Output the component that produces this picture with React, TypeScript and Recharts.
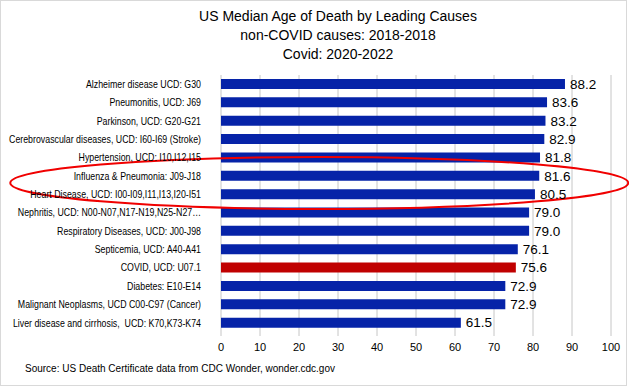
import React from 'react';
import { Bar, BarChart, CartesianGrid, Cell, LabelList, ReferenceDot, XAxis, YAxis } from 'recharts';

const causes = [
  'Alzheimer disease UCD: G30',
  'Pneumonitis, UCD: J69',
  'Parkinson, UCD: G20-G21',
  'Cerebrovascular diseases, UCD: I60-I69 (Stroke)',
  'Hypertension, UCD: I10,I12,I15',
  'Influenza & Pneumonia: J09-J18',
  'Heart Disease, UCD: I00-I09,I11,I13,I20-I51',
  'Nephritis, UCD: N00-N07,N17-N19,N25-N27\u2026',
  'Respiratory Diseases, UCD: J00-J98',
  'Septicemia, UCD: A40-A41',
  'COVID, UCD: U07.1',
  'Diabetes: E10-E14',
  'Malignant Neoplasms, UCD C00-C97 (Cancer)',
  'Liver disease and cirrhosis,  UCD: K70,K73-K74',
];
const medianAge = [88.2, 83.6, 83.2, 82.9, 81.8, 81.6, 80.5, 79.0, 79.0, 76.1, 75.6, 72.9, 72.9, 61.5];
const xTicks = [0, 10, 20, 30, 40, 50, 60, 70, 80, 90, 100];
const highlighted = 'COVID, UCD: U07.1';
const circled = 'Influenza & Pneumonia: J09-J18';

const titleLines = ['US Median Age of Death by Leading Causes', 'non-COVID causes: 2018-2018', 'Covid: 2020-2022'];

const data = causes.map((cause, i) => ({ cause, age: medianAge[i] }));

const sans = '"Liberation Sans", Arial, sans-serif';

// Calibri-like narrow labels: squeeze Liberation Sans horizontally
const CauseTick = ({ x, y, payload }: any) => (
  <text
    transform={`translate(${x - 10},${y}) scale(0.84,1)`}
    dy="0.35em"
    textAnchor="end"
    fill="#000"
    fontSize={10.5}
    fontFamily={sans}
    style={{ whiteSpace: 'pre' }}
  >
    {payload.value}
  </text>
);

const Ellipse = (props: any) => (
  <ellipse
    cx={props.cx}
    cy={props.cy + 7}
    rx={309}
    ry={26}
    fill="none"
    stroke="#F00000"
    strokeWidth={2}
  />
);

const App = () => {
  return (
    <div style={{ position: 'relative', width: 629, height: 387, background: '#fff', fontFamily: sans }}>
      <style>{'body{margin:0}'}</style>
      <div
        style={{
          position: 'absolute', left: 0, top: 0, width: 627, height: 386,
          border: '1px solid #D9D9D9', boxSizing: 'border-box',
        }}
      />
      <div style={{ position: 'absolute', left: 0, top: 7, width: 676, textAlign: 'center', fontSize: 14, lineHeight: '19px', color: '#000' }}>
        {titleLines.map((t) => <div key={t}>{t}</div>)}
      </div>
      <BarChart
        width={629}
        height={387}
        data={data}
        layout="vertical"
        margin={{ top: 75, right: 18, bottom: 30, left: 1 }}
        barSize={10}
        style={{ position: 'absolute', left: 0, top: 0 }}
      >
        <CartesianGrid horizontal={false} stroke="#C6C6C6" strokeWidth={1} />
        <XAxis
          type="number"
          domain={[0, 100]}
          ticks={xTicks}
          axisLine={false}
          tickLine={{ stroke: '#C6C6C6' }}
          tickSize={4}
          tickMargin={7}
          height={25}
          tick={{ fill: '#000', fontSize: 11, fontFamily: sans }}
        />
        <YAxis
          type="category"
          dataKey="cause"
          width={220}
          axisLine={false}
          tickLine={false}
          tickSize={0}
          tickMargin={10}
          interval={0}
          tick={CauseTick}
        />
        <Bar dataKey="age" isAnimationActive={false}>
          {data.map((d) => (
            <Cell key={d.cause} fill={d.cause === highlighted ? '#C00000' : '#0623A8'} />
          ))}
          <LabelList
            dataKey="age"
            position="right"
            offset={5}
            formatter={(v: any) => Number(v).toFixed(1)}
            style={{ fill: '#000', fontSize: 13.5, fontFamily: sans }}
          />
        </Bar>
        <ReferenceDot x={25.2} y={circled} ifOverflow="visible" shape={Ellipse} />
      </BarChart>
      <div style={{ position: 'absolute', left: 25, top: 363, fontSize: 10, color: '#000', fontFamily: sans }}>
        Source: US Death Certificate data from CDC Wonder, wonder.cdc.gov
      </div>
    </div>
  );
};

export default App;
